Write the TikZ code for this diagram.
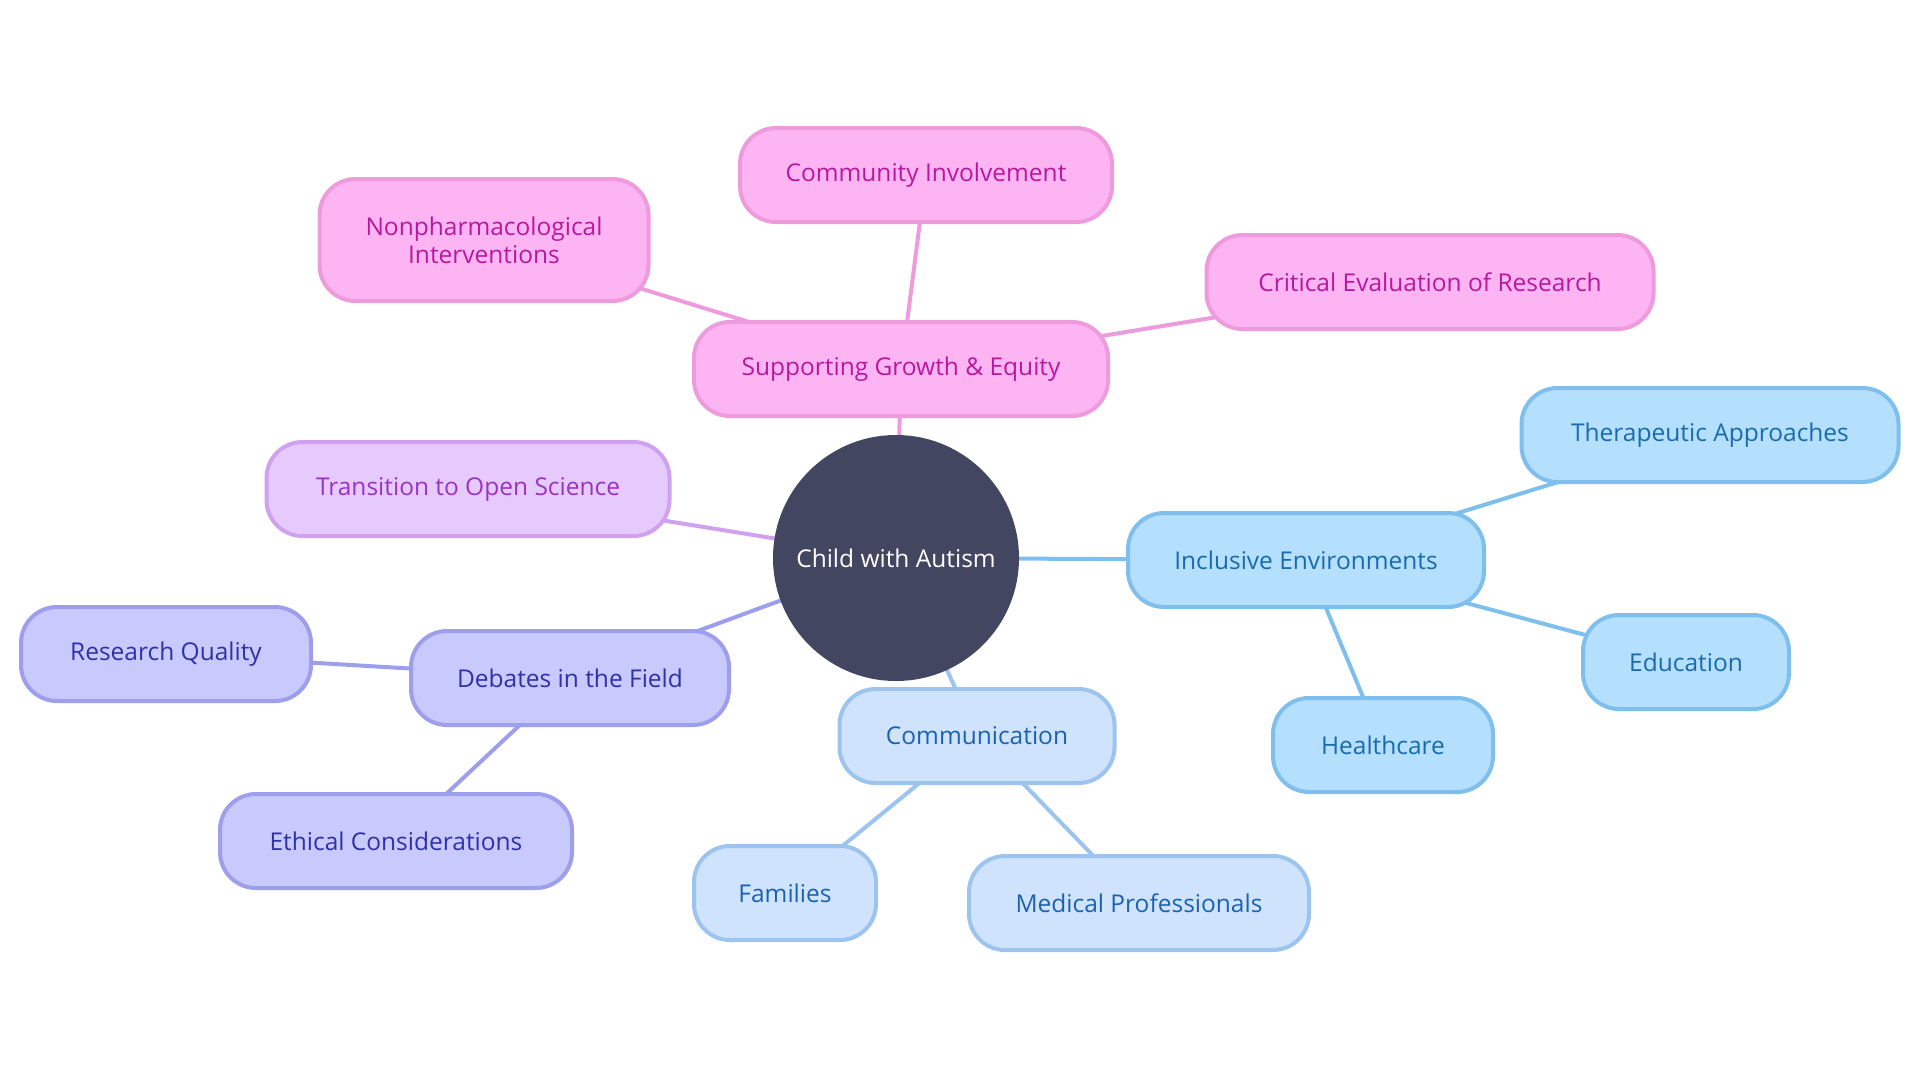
\documentclass[tikz,border=0pt]{standalone}
\usepackage{fontspec}
\setmainfont{Open Sans}
\usetikzlibrary{backgrounds}
\definecolor{rootfill}{HTML}{424660}
\definecolor{pinkfill}{HTML}{FDB4F3}\definecolor{pinkline}{HTML}{EE9BDE}\definecolor{pinktext}{HTML}{B8189E}
\definecolor{lilafill}{HTML}{E7CAFD}\definecolor{lilaline}{HTML}{CFA1EE}\definecolor{lilatext}{HTML}{9A32C6}
\definecolor{violfill}{HTML}{C8C9FC}\definecolor{violline}{HTML}{9D9FEC}\definecolor{violtext}{HTML}{2F31A8}
\definecolor{palefill}{HTML}{CFE3FC}\definecolor{paleline}{HTML}{9DC4EE}\definecolor{paletext}{HTML}{1B62B2}
\definecolor{skyfill}{HTML}{B4DFFD}\definecolor{skyline}{HTML}{7EBFEE}\definecolor{skytext}{HTML}{1A6BAE}
\tikzset{
	topic/.style={draw, line width=4pt, rounded corners=36pt, minimum height=94pt, align=center, inner sep=0pt},
	pinkbox/.style={topic, fill=pinkfill, draw=pinkline, text=pinktext},
	lilabox/.style={topic, fill=lilafill, draw=lilaline, text=lilatext},
	violbox/.style={topic, fill=violfill, draw=violline, text=violtext},
	palebox/.style={topic, fill=palefill, draw=paleline, text=paletext},
	skybox/.style={topic, fill=skyfill, draw=skyline, text=skytext},
	link/.style={line width=4pt}
}

\begin{document}
\begin{tikzpicture}[x=1pt, y=-1pt, font=\fontsize{24.5}{28}\selectfont]
	\useasboundingbox (0,0) rectangle (1920,1080);
	
	\node[circle, fill=rootfill, text=white, minimum size=246pt, inner sep=0pt] (root) at (896,558) {Child with Autism};
	
	% pink branch
	\node[pinkbox, minimum width=414pt] (growth) at (901,369) {Supporting Growth \& Equity};
	\node[pinkbox, minimum width=372pt] (community) at (926,175) {Community Involvement};
	\node[pinkbox, minimum width=329pt, minimum height=122pt] (nonpharma) at (484,240) {Nonpharmacological\\Interventions};
	\node[pinkbox, minimum width=447pt] (critical) at (1430,282) {Critical Evaluation of Research};
	
	\node[lilabox, minimum width=403pt] (openscience) at (468,489) {Transition to Open Science};
	
	% blue-violet branch
	\node[violbox, minimum width=318pt] (debates) at (570,678) {Debates in the Field};
	\node[violbox, minimum width=290pt] (quality) at (166,654) {Research Quality};
	\node[violbox, minimum width=352pt] (ethical) at (396,841) {Ethical Considerations};
	
	% pale blue branch
	\node[palebox, minimum width=275pt] (communication) at (977,736) {Communication};
	\node[palebox, minimum width=182pt] (families) at (785,893) {Families};
	\node[palebox, minimum width=340pt] (medical) at (1139,903) {Medical Professionals};
	
	% sky blue branch
	\node[skybox, minimum width=356pt] (inclusive) at (1306,560) {Inclusive Environments};
	\node[skybox, minimum width=377pt] (therapeutic) at (1710,435) {Therapeutic Approaches};
	\node[skybox, minimum width=206pt] (education) at (1686,662) {Education};
	\node[skybox, minimum width=220pt] (healthcare) at (1383,745) {Healthcare};
	
	\begin{pgfonlayer}{background}
		\draw[link, pinkline] (root.center) -- (growth.center);
		\draw[link, pinkline] (growth.center) -- (community.center);
		\draw[link, pinkline] (growth.center) -- (nonpharma.center);
		\draw[link, pinkline] (growth.center) -- (critical.center);
		\draw[link, lilaline] (root.center) -- (openscience.center);
		\draw[link, violline] (root.center) -- (debates.center);
		\draw[link, violline] (debates.center) -- (quality.center);
		\draw[link, violline] (debates.center) -- (ethical.center);
		\draw[link, paleline] (root.center) -- (communication.center);
		\draw[link, paleline] (communication.center) -- (families.center);
		\draw[link, paleline] (communication.center) -- (medical.center);
		\draw[link, skyline] (root.center) -- (inclusive.center);
		\draw[link, skyline] (inclusive.center) -- (therapeutic.center);
		\draw[link, skyline] (inclusive.center) -- (education.center);
		\draw[link, skyline] (inclusive.center) -- (healthcare.center);
	\end{pgfonlayer}
\end{tikzpicture}
\end{document}
